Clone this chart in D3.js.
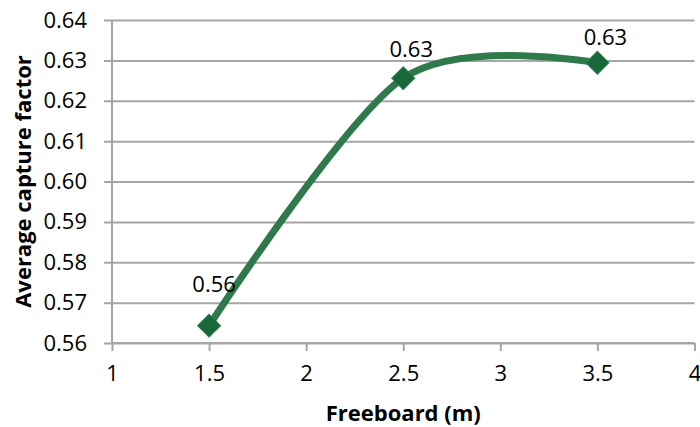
<!DOCTYPE html>
<html>
<head>
<meta charset="utf-8">
<script src="https://cdn.jsdelivr.net/npm/d3@7"></script>
<style>
  body { margin: 0; background: #fff; }
  svg { display: block; font-family: "Open Sans", sans-serif; }
</style>
</head>
<body>
<div id="chart"></div>
<script>
// freeboard values (m) and average capture factor
const freeboard = [1.5, 2.5, 3.5]
const captureFactor = [0.5643, 0.6256, 0.6294]
const pointLabels = ['0.56', '0.63', '0.63']
const xTicks = [1, 1.5, 2, 2.5, 3, 3.5, 4]
const yTicks = [0.56, 0.57, 0.58, 0.59, 0.60, 0.61, 0.62, 0.63, 0.64]

const WIDTH = 700
const HEIGHT = 427
const MARGIN = { TOP: 20, BOTTOM: 84, LEFT: 112, RIGHT: 5.5 }

const svg = d3.select('#chart').append('svg')
  .attr('width', WIDTH)
  .attr('height', HEIGHT)

const x = d3.scaleLinear().domain([1, 4]).range([MARGIN.LEFT, WIDTH - MARGIN.RIGHT])
const y = d3.scaleLinear().domain([0.56, 0.64]).range([HEIGHT - MARGIN.BOTTOM, MARGIN.TOP])

const GRID = '#a6a6a6'

// gridlines + y axis
const yAxis = svg.append('g')
  .attr('transform', `translate(${MARGIN.LEFT},0)`)
  .call(d3.axisLeft(y).tickValues(yTicks).tickFormat(d3.format('.2f'))
    .tickSize(-(WIDTH - MARGIN.LEFT - MARGIN.RIGHT)).tickPadding(25))
yAxis.select('.domain').remove()
yAxis.selectAll('.tick line')
  .attr('x1', -8)
  .attr('stroke', GRID)
  .attr('stroke-width', 2)
yAxis.selectAll('.tick text')
  .attr('fill', '#000')
  .style('font-size', '22px')
  .style('font-family', '"Open Sans", sans-serif')
yAxis.append('line')
  .attr('x1', 0).attr('x2', 0)
  .attr('y1', MARGIN.TOP).attr('y2', HEIGHT - MARGIN.BOTTOM)
  .attr('stroke', GRID).attr('stroke-width', 2)

// x axis
const xAxis = svg.append('g')
  .attr('transform', `translate(0,${HEIGHT - MARGIN.BOTTOM})`)
  .call(d3.axisBottom(x).tickValues(xTicks).tickFormat(d => d).tickSize(8).tickPadding(14))
xAxis.select('.domain').attr('stroke', GRID).attr('stroke-width', 2)
  .attr('d', `M${x(1)},0H${x(4)}`)
xAxis.selectAll('.tick line').attr('stroke', GRID).attr('stroke-width', 2)
xAxis.selectAll('.tick text')
  .attr('fill', '#000')
  .style('font-size', '22px')
  .style('font-family', '"Open Sans", sans-serif')

// axis titles
svg.append('text')
  .attr('x', (x(1) + x(4)) / 2)
  .attr('y', 421)
  .attr('text-anchor', 'middle')
  .style('font-size', '22px')
  .style('font-weight', 'bold')
  .text('Freeboard (m)')

svg.append('text')
  .attr('transform', `translate(31,${(y(0.56) + y(0.64)) / 2}) rotate(-90)`)
  .attr('text-anchor', 'middle')
  .style('font-size', '22px')
  .style('font-weight', 'bold')
  .text('Average capture factor')

// smoothed line
const points = freeboard.map((f, i) => [f, captureFactor[i]])
const line = d3.line()
  .x(d => x(d[0]))
  .y(d => y(d[1]))
  .curve(d3.curveCardinal.tension(0.1))

svg.append('path')
  .datum(points)
  .attr('d', line)
  .attr('fill', 'none')
  .attr('stroke', '#2f7a4b')
  .attr('stroke-width', 7)
  .attr('stroke-linecap', 'round')

// diamond markers
svg.selectAll('.marker')
  .data(points)
  .enter()
  .append('path')
  .attr('class', 'marker')
  .attr('transform', d => `translate(${x(d[0])},${y(d[1])}) rotate(45)`)
  .attr('d', d3.symbol().type(d3.symbolSquare).size(264))
  .attr('fill', '#18683a')
  .attr('stroke', '#2f7a4b')
  .attr('stroke-width', 1)

// data labels
const labelOffset = [34, 21, 18]
svg.selectAll('.label')
  .data(points)
  .enter()
  .append('text')
  .attr('class', 'label')
  .attr('x', (d, i) => x(d[0]) + (i === 0 ? 5 : 8))
  .attr('y', (d, i) => y(d[1]) - labelOffset[i])
  .attr('text-anchor', 'middle')
  .style('font-size', '22px')
  .text((d, i) => pointLabels[i])
</script>
</body>
</html>
